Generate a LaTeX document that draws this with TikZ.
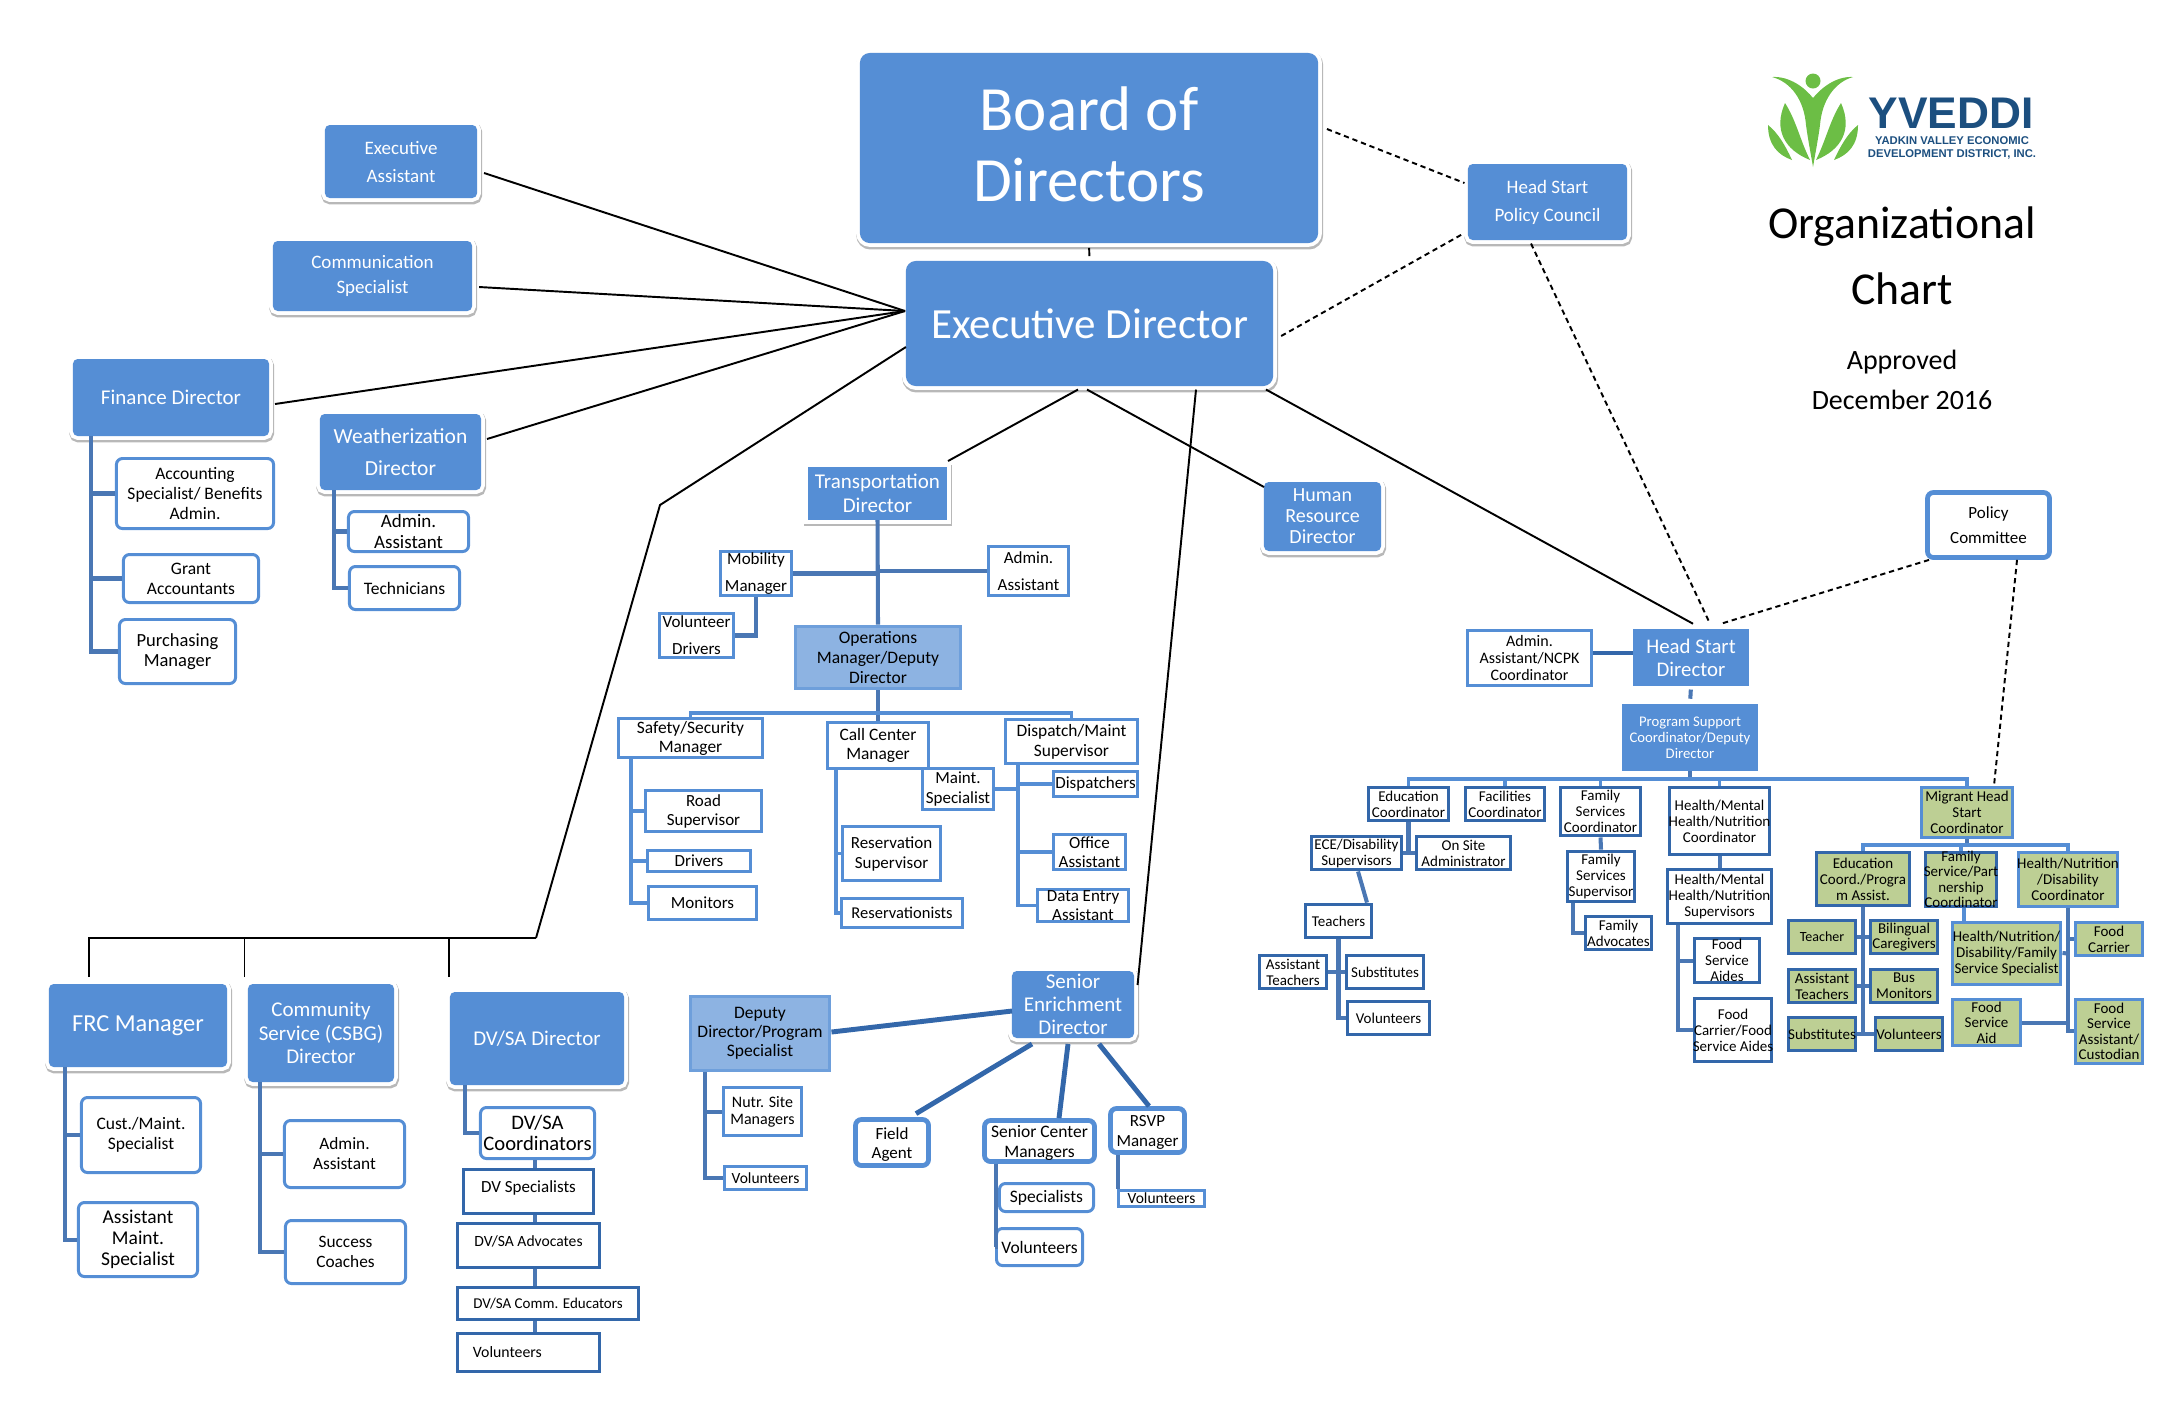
\documentclass[tikz,border=0pt]{standalone}
\usepackage{fontspec}
\setmainfont{Carlito}
\newfontfamily\logofont{Liberation Sans}
\definecolor{mainblue}{HTML}{558ED5}
\definecolor{lightblue}{HTML}{8DB3E2}
\definecolor{darkblue}{HTML}{3367AA}
\definecolor{linkblue}{HTML}{4A77B4}
\definecolor{chartgreen}{HTML}{BDCF94}
\definecolor{logogreen}{HTML}{6CBE45}
\definecolor{logoblue}{HTML}{1C4F7F}

\begin{document}
\begin{tikzpicture}[x=0.01cm,y=-0.01cm,
  basebox/.style={line width=.85pt,inner sep=0pt},
  flatbox/.style={basebox,draw=mainblue,fill=mainblue},
  framed/.style={preaction={draw=black!28,line width=3.3pt,transform canvas={xshift=.2pt,yshift=-.6pt}},
    preaction={draw=white,line width=3pt}},
  bossbox/.style={flatbox,framed,rounded corners=2.4pt},
  softboss/.style={flatbox,framed,rounded corners=1pt},
  sqbossbox/.style={flatbox,framed},
  midbox/.style={basebox,draw=mainblue!85!white,fill=lightblue,line width=1.1pt},
  whitebox/.style={basebox,draw=mainblue,fill=white},
  roundbox/.style={whitebox,rounded corners=1.7pt},
  softbox/.style={roundbox,line width=1.35pt},
  darkbox/.style={basebox,draw=darkblue,fill=white,line width=1.1pt},
  greenbox/.style={basebox,draw=mainblue,fill=chartgreen,line width=1.1pt},
  darkgreen/.style={basebox,draw=darkblue,fill=chartgreen,line width=1.05pt},
  orgline/.style={draw=linkblue,line width=1.15pt},
  thinline/.style={draw=mainblue,line width=.95pt},
  fatline/.style={draw=darkblue,line width=1.4pt},
  blackline/.style={black,line width=.55pt},
  dashline/.style={black,line width=.55pt,dash pattern=on 1.5pt off 1.1pt},
  leaf/.style={fill=logogreen,draw=none},
  titletext/.style={align=center,inner sep=0pt}]

% Parameters
\def\txtcol{white}
\def\txtshift{0pt}
% style, name, left, right, top, bottom, font size, line gap, text
\def\orgbox#1#2#3#4#5#6#7#8#9{%
  \pgfmathsetmacro{\bxx}{(#3+#4)/2}%
  \pgfmathsetmacro{\bxy}{(#5+#6)/2}%
  \pgfmathsetmacro{\fsz}{#7*.2845}%
  \pgfmathsetmacro{\fgp}{#8*.2845}%
  \node[#1,minimum width={(#4-#3-3)*.2845pt},minimum height={(#6-#5-3)*.2845pt},
    label={[align=center,inner sep=0pt,yshift=\txtshift,text=\txtcol,font=\fontsize{\fsz}{\fgp}\selectfont]center:{#9}}]
    (#2) at (\bxx,\bxy) {};}

\useasboundingbox (0,0) rectangle (2176,1408);

% Directors
\def\txtshift{1.1pt}
\orgbox{bossbox}{board}{860}{1318}{53}{243}{63}{71}{Board of\\Directors}
\def\txtshift{0pt}
\orgbox{bossbox}{exec}{906}{1273}{261}{386}{43}{50}{Executive Director}
\orgbox{softboss}{ea}{325}{477}{125}{198}{19}{28}{Executive\\Assistant}
\orgbox{softboss}{comm}{273}{472}{241}{311}{19}{25}{Communication\\Specialist}
\orgbox{softboss}{fin}{73}{269}{359}{436}{21}{25}{Finance Director}
\orgbox{softboss}{wz}{320}{481}{414}{490}{21.5}{32}{Weatherization\\Director}
\orgbox{softboss}{frc}{49}{227}{984}{1067}{24.4}{28}{FRC Manager}
\orgbox{softboss}{csbg}{248}{394}{984}{1082}{21}{23.5}{Community\\Service (CSBG)\\Director}
\orgbox{softboss}{dvdir}{450}{624}{992}{1085}{21}{25}{DV/SA Director}
\orgbox{softboss}{senior}{1012}{1134}{971}{1038}{21}{23}{Senior\\Enrichment\\Director}
\orgbox{softboss}{council}{1468}{1627}{164}{240}{19}{28}{Head Start\\Policy Council}
\orgbox{sqbossbox}{transp}{808}{947}{467}{520}{21}{24}{Transportation\\Director}
\orgbox{softboss}{hr}{1264}{1381}{482}{551}{20}{21}{Human\\Resource\\Director}
\orgbox{flatbox}{hsdir}{1633}{1749}{629}{686}{20.8}{23}{Head Start\\Director}
\orgbox{flatbox}{pss}{1622}{1758}{704}{771}{14.7}{16}{Program Support\\Coordinator/Deputy\\Director}
\def\txtcol{black}

% Finance and Weatherization
\orgbox{roundbox}{acc}{115}{275}{457}{530}{17.5}{19.5}{Accounting\\Specialist/ Benefits\\Admin.}
\orgbox{roundbox}{grant}{122}{260}{553}{604}{17.5}{20}{Grant\\Accountants}
\orgbox{roundbox}{purch}{118}{237}{618}{685}{18.5}{20}{Purchasing\\Manager}
\orgbox{roundbox}{wzadm}{347}{470}{510}{553}{19}{21}{Admin.\\Assistant}
\orgbox{roundbox}{tech}{348}{461}{565}{611}{17.5}{20}{Technicians}

% Transportation
\orgbox{midbox}{ops}{794}{962}{625}{690}{17.5}{20}{Operations\\Manager/Deputy\\Director}
\orgbox{whitebox}{mob}{719}{793}{550}{597}{17}{27}{Mobility\\Manager}
\orgbox{whitebox}{tadm}{987}{1070}{545}{597}{17}{27}{Admin.\\Assistant}
\orgbox{whitebox}{vol}{658}{735}{612}{659}{17}{27}{Volunteer\\Drivers}
\orgbox{whitebox}{saf}{617}{764}{717}{759}{17.4}{19}{Safety/Security\\Manager}
\orgbox{whitebox}{call}{826}{930}{721}{770}{17.4}{19}{Call Center\\Manager}
\orgbox{whitebox}{disp}{1004}{1139}{718}{765}{17.4}{20}{Dispatch/Maint\\Supervisor}
\orgbox{whitebox}{road}{644}{763}{789}{833}{17}{19}{Road\\Supervisor}
\orgbox{whitebox}{drv}{646}{752}{849}{873}{17}{19}{Drivers}
\orgbox{whitebox}{mon}{647}{758}{885}{921}{17}{19}{Monitors}
\orgbox{whitebox}{ressup}{841}{942}{825}{882}{17}{20}{Reservation\\Supervisor}
\orgbox{whitebox}{resv}{840}{964}{897}{929}{16.5}{19}{Reservationists}
\orgbox{whitebox}{maint}{921}{995}{767}{811}{17}{20}{Maint.\\Specialist}
\orgbox{whitebox}{dispa}{1052}{1139}{770}{798}{17}{19}{Dispatchers}
\orgbox{whitebox}{office}{1052}{1127}{833}{871}{17}{19}{Office\\Assistant}
\orgbox{whitebox}{data}{1036}{1130}{888}{923}{17}{19}{Data Entry\\Assistant}

% FRC, CSBG and DV/SA
\orgbox{roundbox}{cust}{80}{202}{1096}{1174}{17.5}{20}{Cust./Maint.\\Specialist}
\orgbox{roundbox}{amaint}{77}{199}{1201}{1278}{19.5}{21}{Assistant\\Maint.\\Specialist}
\orgbox{roundbox}{cadm}{283}{406}{1119}{1189}{17.3}{20}{Admin.\\Assistant}
\orgbox{roundbox}{coach}{284}{407}{1219}{1285}{17.3}{20}{Success\\Coaches}
\orgbox{roundbox}{dvco}{479}{596}{1106}{1160}{20.6}{21}{DV/SA\\Coordinators}
\def\txtshift{1.1pt}
\orgbox{darkbox}{dvsp}{462}{595}{1168}{1215}{17}{19}{DV Specialists}
\orgbox{darkbox}{dvad}{456}{601}{1222}{1269}{15.6}{19}{DV/SA Advocates}
\def\txtshift{0pt}
\orgbox{darkbox}{dved}{456}{640}{1286}{1321}{15}{19}{DV/SA Comm. Educators}
\orgbox{darkbox}{dvvol}{456}{601}{1332}{1373}{15.8}{19}{\hspace*{-12pt}Volunteers}

% Senior Enrichment
\orgbox{midbox}{dep}{689}{831}{995}{1072}{17.5}{19}{Deputy\\Director/Program\\Specialist}
\orgbox{whitebox}{nutr}{722}{803}{1086}{1137}{16}{17}{Nutr. Site\\Managers}
\orgbox{whitebox}{dvol}{723}{808}{1165}{1191}{15.5}{18}{Volunteers}
\def\txtshift{-.5pt}
\orgbox{softbox}{field}{854}{930}{1118}{1167}{17}{19}{Field\\Agent}
\orgbox{softbox}{sctr}{983}{1096}{1119}{1163}{17.5}{20}{Senior Center\\Managers}
\orgbox{softbox}{rsvp}{1109}{1186}{1107}{1154}{17}{20}{RSVP\\Manager}
\def\txtshift{0pt}
\orgbox{roundbox}{spec}{998}{1095}{1182}{1213}{17.5}{19}{Specialists}
\orgbox{roundbox}{svol}{995}{1084}{1227}{1267}{17.5}{19}{Volunteers}
\orgbox{whitebox}{rvol}{1117}{1206}{1189}{1208}{15.5}{18}{Volunteers}

% Head Start
\orgbox{softbox}{policy}{1926}{2051}{491}{559}{17}{25}{Policy\\Committee}
\orgbox{whitebox}{adm}{1466}{1593}{629}{687}{16}{17}{Admin.\\Assistant/NCPK\\Coordinator}
\orgbox{darkbox}{edu}{1367}{1450}{786}{822}{15}{16}{Education\\Coordinator}
\orgbox{darkbox}{fac}{1464}{1546}{786}{822}{15}{16}{Facilities\\Coordinator}
\orgbox{darkbox}{fsc}{1559}{1642}{786}{837}{15}{16}{Family\\Services\\Coordinator}
\orgbox{darkbox}{hc}{1668}{1771}{786}{856}{15}{16}{Health/Mental\\Health/Nutrition\\Coordinator}
\orgbox{darkbox}{ece}{1310}{1403}{835}{871}{15}{16}{ECE/Disability\\Supervisors}
\orgbox{darkbox}{onsite}{1415}{1512}{835}{871}{15}{16}{On Site\\Administrator}
\orgbox{darkbox}{teach}{1304}{1373}{903}{939}{15}{16}{Teachers}
\orgbox{darkbox}{ateach}{1258}{1328}{954}{990}{15}{16}{Assistant\\Teachers}
\orgbox{darkbox}{tsub}{1345}{1425}{954}{990}{15}{16}{Substitutes}
\orgbox{darkbox}{tvol}{1346}{1431}{1000}{1036}{15}{16}{Volunteers}
\orgbox{darkbox}{fss}{1566}{1636}{850}{903}{15}{16}{Family\\Services\\Supervisor}
\orgbox{darkbox}{fadv}{1584}{1653}{915}{951}{15}{16}{Family\\Advocates}
\orgbox{darkbox}{hs}{1666}{1773}{868}{925}{15}{16}{Health/Mental\\Health/Nutrition\\Supervisors}
\orgbox{darkbox}{fsa}{1693}{1761}{937}{984}{15}{16}{Food\\Service\\Aides}
\orgbox{darkbox}{fcf}{1693}{1773}{997}{1063}{15}{16}{Food\\Carrier/Food\\Service Aides}

% Migrant Head Start
\orgbox{greenbox}{mig}{1920}{2014}{786}{839}{15}{16}{Migrant Head\\Start\\Coordinator}
\orgbox{darkgreen}{gedu}{1815}{1911}{851}{907}{15}{16}{Education\\Coord./Progra\\m Assist.}
\orgbox{darkgreen}{gfs}{1924}{1998}{851}{908}{15}{15.5}{Family\\Service/Part\\nership\\Coordinator}
\orgbox{greenbox}{ghn}{2017}{2119}{851}{908}{15}{16}{Health/Nutrition\\/Disability\\Coordinator}
\orgbox{darkgreen}{gteach}{1787}{1857}{919}{955}{14}{16}{Teacher}
\orgbox{darkgreen}{gbil}{1869}{1939}{919}{955}{15}{15.5}{Bilingual\\Caregivers}
\orgbox{darkgreen}{gat}{1787}{1857}{968}{1004}{15}{16}{Assistant\\Teachers}
\orgbox{darkgreen}{gbus}{1869}{1939}{968}{1004}{15}{16}{Bus\\Monitors}
\orgbox{darkgreen}{gsub}{1787}{1857}{1016}{1052}{15}{16}{Substitutes}
\orgbox{darkgreen}{gvol}{1874}{1944}{1016}{1052}{15}{16}{Volunteers}
\orgbox{greenbox}{ghnd}{1951}{2062}{921}{986}{15}{16}{Health/Nutrition/\\Disability/Family\\Service Specialist}
\orgbox{greenbox}{gcar}{2074}{2144}{921}{957}{15}{16}{Food\\Carrier}
\orgbox{greenbox}{gaid}{1951}{2022}{998}{1047}{15}{15.5}{Food\\Service\\Aid}
\orgbox{greenbox}{gcus}{2074}{2144}{998}{1065}{15}{15.5}{Food\\Service\\Assistant/\\Custodian}

% Solid lines from the Executive Director
\coordinate (hubL) at (905,311);
\coordinate (elbowA) at (660,505);
\coordinate (elbowB) at (536,938);
\coordinate (dropF) at (89,977);
\coordinate (dropC) at (244.5,977);
\coordinate (dropD) at (449,977);
\draw[blackline,shorten <=1.4pt,shorten >=1.4pt] (board.south) -- (exec.north);
\draw[blackline] (hubL) -- ([xshift=2pt]ea.east |- 0,173);
\draw[blackline] (hubL) -- ([xshift=2pt]comm.east |- 0,287);
\draw[blackline] (hubL) -- ([xshift=1.7pt]fin.east |- 0,404);
\draw[blackline] (hubL) -- ([xshift=1.7pt]wz.east |- 0,439);
\draw[blackline] (exec.west |- 0,347) -- (elbowA) -- (elbowB);
\draw[blackline,line width=.4pt] (dropF) |- (elbowB);
\draw[blackline,line width=.4pt] (dropC) |- (elbowB);
\draw[blackline] (dropD) |- (elbowB);
\draw[blackline] ([yshift=-1pt]exec.south -| 1078,0) -- ([yshift=1.7pt]transp.north -| 948,0);
\draw[blackline] ([yshift=-1pt]exec.south -| 1087,0) -- (hr.west |- 0,487);
\draw[blackline] ([yshift=-1pt]exec.south -| 1196,0) -- ([xshift=1pt]senior.east |- 0,985);
\draw[blackline] ([yshift=-1pt]exec.south -| 1266,0) -- ([yshift=1.5pt]hsdir.north -| 1693,0);

% Dashed lines
\draw[dashline] ([xshift=2.5pt]board.east |- 0,129) -- ([xshift=-1pt]council.west |- 0,183);
\draw[dashline] ([xshift=2.3pt]exec.east |- 0,336) -- ([xshift=-1pt]council.west |- 0,233);
\draw[dashline] ([yshift=-1pt]council.south -| 1531,0) -- ([yshift=1.5pt]hsdir.north -| 1710,0);
\draw[dashline] (policy.south -| 1929,0) -- ([yshift=1.5pt]hsdir.north -| 1721,0);
\draw[dashline] (policy.south -| 2017,0) -- (mig.north -| 1994,0);

% Finance and Weatherization links
\draw[orgline] (fin.south -| 91,0) |- (acc.west);
\draw[orgline] (fin.south -| 91,0) |- (grant.west);
\draw[orgline] (fin.south -| 91,0) |- (purch.west);
\draw[orgline] (wz.south -| 334,0) |- (wzadm.west);
\draw[orgline] (wz.south -| 334,0) |- (tech.west);

% Transportation links
\coordinate (opsbar) at (ops.south |- 0,713);
\draw[orgline] (transp.south) -- (ops.north);
\draw[orgline] (mob.east) -- (mob.east -| transp.south);
\draw[orgline] (tadm.west) -- (tadm.west -| transp.south);
\draw[orgline] (mob.south) |- (vol.east);
\draw[orgline] (ops.south) -- (call.north);
\draw[thinline] (saf.north) |- (opsbar) -| (disp.north);
\draw[thinline] (saf.south -| 631,0) |- (road.west);
\draw[thinline] (saf.south -| 631,0) |- (drv.west);
\draw[thinline] (saf.south -| 631,0) |- (mon.west);
\draw[thinline] (call.south -| 836,0) |- (ressup.west);
\draw[thinline] (call.south -| 836,0) |- (resv.west);
\draw[thinline] (disp.south -| 1018,0) |- (dispa.west);
\draw[thinline] (disp.south -| 1018,0) |- (office.west);
\draw[thinline] (disp.south -| 1018,0) |- (data.west);
\draw[thinline] (maint.east) -- (maint.east -| 1018,0);

% FRC, CSBG and DV/SA links
\draw[orgline] (frc.south -| 65,0) |- (cust.west);
\draw[orgline] (frc.south -| 65,0) |- (amaint.west);
\draw[orgline] (csbg.south -| 260,0) |- (cadm.west);
\draw[orgline] (csbg.south -| 260,0) |- (coach.west);
\draw[orgline] (dvdir.south -| 465,0) |- (dvco.west);
\draw[orgline] (dvco.south -| 535,0) -- (dvsp.north -| 535,0);
\draw[orgline] (dvsp.south -| 535,0) -- (dvad.north -| 535,0);
\draw[orgline] (dvad.south -| 535,0) -- (dved.north -| 535,0);
\draw[orgline] (dved.south -| 535,0) -- (dvvol.north -| 535,0);

% Senior Enrichment links
\draw[fatline] (dep.east |- 0,1032) -- (senior.west |- 0,1011);
\draw[fatline] ([yshift=-1.7pt]senior.south -| 1032,0) -- ([yshift=1pt]field.north -| 916,0);
\draw[fatline] ([yshift=-1.7pt]senior.south -| 1068,0) -- (sctr.north -| 1059,0);
\draw[fatline] ([yshift=-1.7pt]senior.south -| 1099,0) -- (rsvp.north -| 1149,0);
\draw[orgline] (dep.south -| 705,0) |- (nutr.west);
\draw[orgline] (dep.south -| 705,0) |- (dvol.west);
\draw[orgline] (sctr.south -| 996,0) |- (spec.west);
\draw[orgline] (sctr.south -| 996,0) |- (svol.west);
\draw[orgline] (rsvp.south -| 1118,0) -- (rvol.north -| 1118,0);

% Head Start links
\coordinate (hsbar) at (pss.south |- 0,779);
\draw[fatline] (adm.east |- 0,653) -- (hsdir.west |- 0,653);
\draw[orgline,shorten <=1pt,shorten >=1.5pt] (hsdir.south) -- (pss.north);
\draw[orgline] (pss.south) -- (hsbar);
\draw[thinline] (edu.north) |- (hsbar) -| (mig.north);
\draw[thinline] (fac.north) -- (fac.north |- hsbar);
\draw[thinline] (fsc.north) -- (fsc.north |- hsbar);
\draw[thinline] (hc.north) -- (hc.north |- hsbar);
\draw[orgline] (edu.south) -- (edu.south |- ece.east);
\draw[orgline] (ece.east) -- (onsite.west);
\draw[orgline] (ece.south -| 1358,0) -- (teach.north -| 1367,0);
\draw[orgline] (teach.south) |- (tvol.west);
\draw[orgline] (ateach.east) -- (tsub.west);
\draw[orgline] (fsc.south) -- (fss.north);
\draw[orgline] (fss.south -| 1573,0) |- (fadv.west);
\draw[orgline] (hc.south) -- (hs.north);
\draw[orgline] (hs.south -| 1678,0) |- (fsa.west);
\draw[orgline] (hs.south -| 1678,0) |- (fcf.west);

% Migrant links
\coordinate (migbar) at (mig.south |- 0,845);
\draw[orgline] (mig.south) -- (migbar);
\draw[thinline] (gedu.north) |- (migbar) -| (ghn.north);
\draw[thinline] (gfs.north) -- (gfs.north |- migbar);
\draw[orgline] (gedu.south) -- (gedu.south |- gsub.east);
\draw[orgline] (gteach.east) -- (gbil.west);
\draw[orgline] (gat.east) -- (gbus.west);
\draw[orgline] (gsub.east) -- (gvol.west);
\draw[thinline] (gfs.south -| 1964,0) -- (ghnd.north -| 1964,0);
\draw[orgline] (ghn.south) |- (gcus.west |- 0,1031);
\draw[orgline] (gcar.west) -- (gcar.west -| ghn.south);
\draw[orgline] (ghnd.east |- 0,953) -- (ghnd.east -| ghn.south);
\draw[orgline] (gaid.east) -- (gaid.east -| ghn.south);

% Logo figure
\fill[leaf] (1813,81) circle (7.5);
\fill[leaf] (1772,77) .. controls (1790,76) and (1805,88) .. (1813,98)
  .. controls (1821,88) and (1836,76) .. (1853,77)
  .. controls (1835,82) and (1822,100) .. (1820,125)
  .. controls (1818,140) and (1815,155) .. (1813,167)
  .. controls (1811,155) and (1808,140) .. (1806,125)
  .. controls (1804,100) and (1791,82) .. (1772,77) -- cycle;
\fill[leaf] (1785,103) .. controls (1773,130) and (1785,150) .. (1810,160)
  .. controls (1800,140) and (1796,120) .. (1785,103) -- cycle;
\fill[leaf] (1841,103) .. controls (1853,130) and (1841,150) .. (1816,160)
  .. controls (1826,140) and (1830,120) .. (1841,103) -- cycle;
\fill[leaf] (1768,125) .. controls (1768,145) and (1778,155) .. (1792,160)
  .. controls (1785,145) and (1778,133) .. (1768,125) -- cycle;
\fill[leaf] (1858,125) .. controls (1858,145) and (1848,155) .. (1834,160)
  .. controls (1841,145) and (1848,133) .. (1858,125) -- cycle;

% Logo text
\node[titletext,text=logoblue,font=\logofont\bfseries\fontsize{12.6}{14}\selectfont] (logoname) at (1951,113) {YVEDDI};
\node[titletext,text=logoblue,font=\logofont\bfseries\fontsize{3.2}{3.6}\selectfont] (logoline) at (1952,148)
  {YADKIN VALLEY ECONOMIC\\[.2pt]DEVELOPMENT DISTRICT, INC.};

% Title
\node[titletext,font=\fontsize{13}{15}\selectfont] (titleA) at (1902,227) {Organizational};
\node[titletext,font=\fontsize{13}{15}\selectfont] (titleB) at (1902,289) {Chart};
\node[titletext,font=\fontsize{7.95}{9}\selectfont] (approved) at (1902,362) {Approved};
\node[titletext,font=\fontsize{7.95}{9}\selectfont] (approvedB) at (1902,400) {December 2016};

\end{tikzpicture}
\end{document}
